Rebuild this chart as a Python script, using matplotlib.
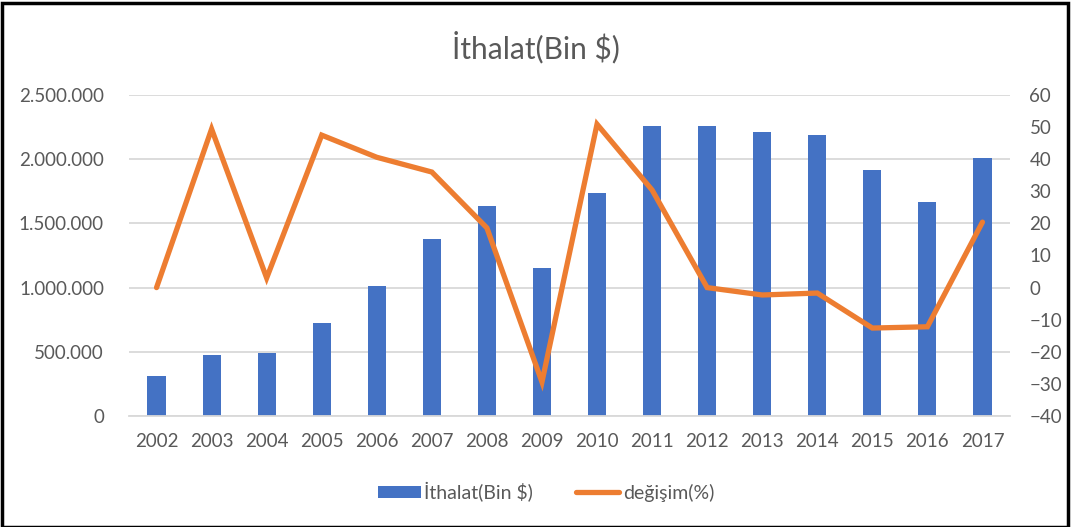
import matplotlib
matplotlib.use("Agg")
import matplotlib.pyplot as plt
from matplotlib.ticker import FuncFormatter
from matplotlib.patches import Rectangle
import numpy as np

years = ["2002", "2003", "2004", "2005", "2006", "2007", "2008", "2009",
         "2010", "2011", "2012", "2013", "2014", "2015", "2016", "2017"]
ithalat = [311000, 475000, 490000, 724000, 1012000, 1378000, 1635000, 1153000,
           1737000, 2262000, 2262000, 2212000, 2186000, 1912000, 1665000, 2009000]
degisim = [0.0, 49.4, 3.0, 47.5, 40.6, 36.0, 18.6, -29.4,
           50.9, 30.4, 0.0, -2.3, -1.7, -12.6, -12.2, 20.4]

plt.rcParams['font.family'] = ['Lato', 'DejaVu Sans']
txt = '#595959'
bar_c = '#4472C4'
line_c = '#ED7D31'
grid_c = '#D9D9D9'

fig = plt.figure(figsize=(10.71, 5.27), dpi=100)
ax = fig.add_axes([129/1071, 1-416/527, (1010-129)/1071, (416-95)/527])
x = np.arange(len(years))
bars = ax.bar(x, ithalat, width=0.33, color=bar_c, zorder=2, label='İthalat(Bin $)')
ax.set_xlim(-0.5, len(years)-0.5)
ax.set_ylim(0, 2500000)
ax.set_yticks(np.arange(0, 2500001, 500000))
ax.yaxis.set_major_formatter(FuncFormatter(lambda v, p: f"{int(v):,}".replace(",", ".")))
ax.set_xticks(x)
ax.set_xticklabels(years)
ax.grid(axis='y', color=grid_c, linewidth=1.3, zorder=0)
ax.set_axisbelow(True)
for s in ax.spines.values():
    s.set_visible(False)
ax.spines['bottom'].set_visible(True)
ax.spines['bottom'].set_color(grid_c)
ax.spines['bottom'].set_linewidth(1.3)
ax.tick_params(axis='both', length=0, colors=txt, labelsize=13.5)
ax.tick_params(axis='x', pad=12)
ax.tick_params(axis='y', pad=18)

ax2 = ax.twinx()
ln, = ax2.plot(x, degisim, color=line_c, linewidth=3.8, solid_capstyle='round',
               solid_joinstyle='miter', zorder=3, label='değişim(%)')
ax2.set_ylim(-40, 60)
ax2.set_yticks(np.arange(-40, 61, 10))
for s in ax2.spines.values():
    s.set_visible(False)
ax2.tick_params(axis='y', length=0, colors=txt, labelsize=13.5, pad=14)

fig.suptitle('İthalat(Bin $)', x=536/1071, y=1-47/527, va='center', color=txt, fontsize=21.5)

leg = fig.legend([bars, ln], ['İthalat(Bin $)', 'değişim(%)'], loc='center',
                 bbox_to_anchor=(546/1071, 1-492/527), ncol=2, frameon=False,
                 fontsize=14, handlelength=2.2, handleheight=0.6, handletextpad=0.2,
                 columnspacing=2.2)
for t in leg.get_texts():
    t.set_color(txt)

fig.patches.append(Rectangle((2/1071, 0), 1066/1071, 1-3/527, transform=fig.transFigure,
                             fill=False, edgecolor='black', linewidth=2.5))
fig.savefig('out.png', dpi=100, facecolor='white')
